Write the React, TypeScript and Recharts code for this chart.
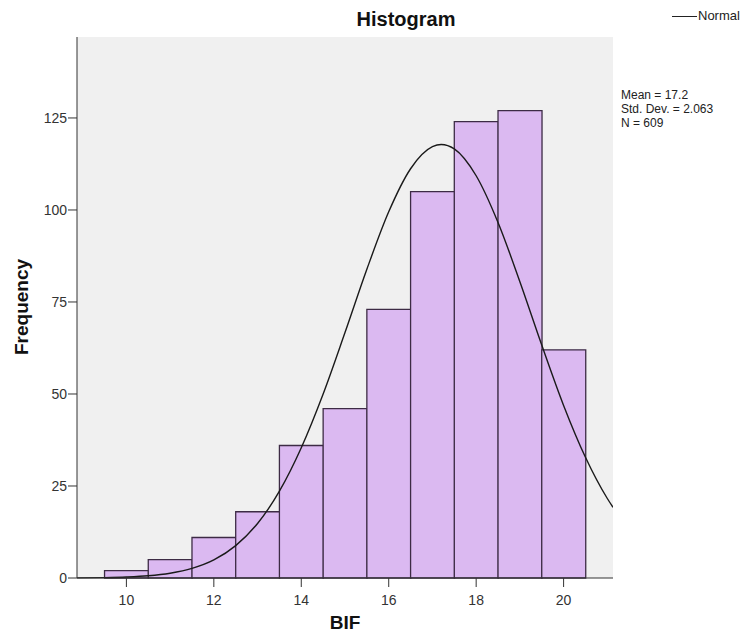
import React from 'react';
import { ComposedChart, Bar, Line, XAxis, YAxis, CartesianGrid } from 'recharts';

// histogram bins (centre of each 1-unit bin) and their counts
const binCenters = [10, 11, 12, 13, 14, 15, 16, 17, 18, 19, 20];
const frequencies = [2, 5, 11, 18, 36, 46, 73, 105, 124, 127, 62];

// normal curve
const curveX = [8.87, 9.5, 10, 10.5, 11, 11.5, 12, 12.5, 13, 13.5, 14, 14.5, 15, 15.5, 16, 16.5, 17, 17.2, 17.5, 18, 18.5, 19, 19.5, 20, 20.5, 21, 21.13];
const curveY = [0.03, 0.11, 0.27, 0.6, 1.3, 2.6, 4.9, 8.8, 14.8, 23.6, 35.4, 50.0, 66.7, 83.9, 99.5, 111.2, 117.2, 117.8, 116.6, 109.3, 96.6, 80.5, 63.3, 46.9, 32.8, 21.6, 19.2];

const xTicks = [10, 12, 14, 16, 18, 20];
const yTicks = [0, 25, 50, 75, 100, 125];
const stats = ['Mean = 17.2', 'Std. Dev. = 2.063', 'N = 609'];

const bins = binCenters.map((x, i) => ({ x, count: frequencies[i] }));
const curve = curveX.map((x, i) => ({ x, normal: curveY[i] }));

const font = '"Liberation Sans", Arial, sans-serif';
const tickStyle = { fill: '#333', fontSize: 14, fontFamily: font };

const App: React.FC = () => {
  return (
    <div style={{ position: 'absolute', left: 0, top: 0, width: 747, height: 639, background: '#fff', fontFamily: font }}>
      <ComposedChart
        width={747}
        height={639}
        data={bins}
        barGap={0}
        barCategoryGap={0}
        margin={{ top: 37, right: 134, bottom: 0, left: 0 }}
      >
        <CartesianGrid fill="#f0f0f0" horizontal={false} vertical={false} />
        <XAxis
          dataKey="x"
          type="number"
          domain={[8.87, 21.13]}
          ticks={xTicks}
          allowDataOverflow
          height={61}
          tick={tickStyle}
          tickSize={9}
          tickMargin={8}
          axisLine={{ stroke: '#333' }}
          tickLine={{ stroke: '#333' }}
        />
        {/* top axis doubles as the frame's top edge and carries the curve */}
        <XAxis
          xAxisId="top"
          dataKey="x"
          orientation="top"
          type="number"
          domain={[8.87, 21.13]}
          allowDataOverflow
          height={0}
          tick={false}
          tickLine={false}
          axisLine={{ stroke: '#666', strokeWidth: 1.5 }}
        />
        <YAxis
          type="number"
          domain={[0, 147]}
          ticks={yTicks}
          width={77}
          tick={tickStyle}
          tickSize={9}
          tickMargin={1}
          axisLine={{ stroke: '#333' }}
          tickLine={{ stroke: '#333' }}
        />
        <YAxis
          yAxisId="right"
          orientation="right"
          type="number"
          domain={[0, 147]}
          width={0}
          tick={false}
          tickLine={false}
          axisLine={{ stroke: '#666', strokeWidth: 1.5 }}
        />
        <Bar dataKey="count" fill="#dbb9f1" stroke="#3d2b45" strokeWidth={1.3} isAnimationActive={false} />
        <Line
          xAxisId="top"
          data={curve}
          dataKey="normal"
          type="monotone"
          stroke="#1a1a1a"
          strokeWidth={1.4}
          dot={false}
          activeDot={false}
          isAnimationActive={false}
        />
      </ComposedChart>

      <div style={{ position: 'absolute', left: 306, width: 200, top: 8, textAlign: 'center', fontSize: 20, fontWeight: 'bold', color: '#111' }}>
        Histogram
      </div>
      <div style={{ position: 'absolute', left: 672, top: 16, width: 25, borderTop: '1px solid #222' }} />
      <div style={{ position: 'absolute', left: 698, top: 8, fontSize: 13, color: '#222' }}>Normal</div>
      <div style={{ position: 'absolute', left: 621, top: 88, fontSize: 12, lineHeight: '14px', color: '#222' }}>
        {stats.map((s) => (
          <div key={s}>{s}</div>
        ))}
      </div>
      <div
        style={{
          position: 'absolute',
          left: 22,
          top: 307,
          transform: 'translate(-50%, -50%) rotate(-90deg)',
          fontSize: 19,
          fontWeight: 'bold',
          color: '#111',
          whiteSpace: 'nowrap',
        }}
      >
        Frequency
      </div>
      <div style={{ position: 'absolute', left: 295, width: 100, top: 612, textAlign: 'center', fontSize: 19, fontWeight: 'bold', color: '#111' }}>
        BIF
      </div>
    </div>
  );
};

export default App;
